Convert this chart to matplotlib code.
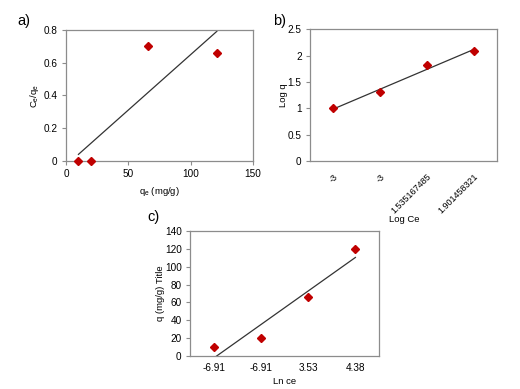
import numpy as np
import matplotlib
matplotlib.use("Agg")
import matplotlib.pyplot as plt

plt.rcParams["font.family"] = ["Liberation Sans", "DejaVu Sans"]
plt.rcParams["mathtext.fontset"] = "custom"
plt.rcParams["mathtext.rm"] = "Liberation Sans"
plt.rcParams["mathtext.it"] = "Liberation Sans"

# a) Langmuir
qe_a = [10, 20, 66, 121]
ce_qe_a = [0.0, 0.0, 0.70, 0.66]

# b) Freundlich (categorical x)
log_ce_labels = ["-3", "-3", "1.535167485", "1.901458321"]
log_q_b = [1.0, 1.3, 1.82, 2.08]

# c) Temkin (categorical x)
ln_ce_labels = ["-6.91", "-6.91", "3.53", "4.38"]
q_c = [10, 20, 66, 120]

RED = "#c00000"
SPINE = "#8c8c8c"
TICK_FS = 7.2
LAB_FS = 6.8


def style_axes(ax, cat=False):
    for s in ax.spines.values():
        s.set_color(SPINE)
        s.set_linewidth(0.9)
    ax.tick_params(axis="y", direction="out", length=3, width=0.8, color=SPINE,
                   labelsize=TICK_FS, pad=3)
    if cat:
        ax.tick_params(axis="x", length=0, labelsize=TICK_FS, pad=5)
    else:
        ax.tick_params(axis="x", direction="out", length=3, width=0.8, color=SPINE,
                       labelsize=TICK_FS, pad=3)


def trend(x, y):
    k, b = np.polyfit(x, y, 1)
    x = np.asarray(x, dtype=float)
    return x, k * x + b


fig = plt.figure(figsize=(5.2, 3.89), dpi=100)

# panel a
ax = fig.add_axes([0.1269, 0.5861, 0.3596, 0.3368])
tx, ty = trend(qe_a, ce_qe_a)
ax.plot(tx, ty, color="#333333", lw=0.9)
ax.plot(qe_a, ce_qe_a, "D", color=RED, ms=3.8, clip_on=False, zorder=5)
ax.set_xlim(0, 150)
ax.set_ylim(0, 0.8)
ax.set_xticks([0, 50, 100, 150])
ax.set_yticks([0, 0.2, 0.4, 0.6, 0.8])
ax.set_yticklabels(["0", "0.2", "0.4", "0.6", "0.8"])
ax.set_xlabel(r"q$_\mathregular{e}$ (mg/g)", fontsize=LAB_FS, labelpad=4)
ax.set_ylabel(r"C$_\mathregular{e}$/q$_\mathregular{e}$", fontsize=LAB_FS, labelpad=2)
style_axes(ax)
fig.text(0.033, 0.945, "a)", fontsize=10.5, va="center")

# panel b
ax = fig.add_axes([0.5962, 0.5861, 0.3596, 0.339])
pos = np.arange(1, len(log_q_b) + 1)
tx, ty = trend(pos, log_q_b)
ax.plot(tx, ty, color="#333333", lw=0.9)
ax.plot(pos, log_q_b, "D", color=RED, ms=3.8, zorder=5)
ax.set_xlim(0.5, 4.5)
ax.set_ylim(0, 2.5)
ax.set_yticks([0, 0.5, 1, 1.5, 2, 2.5])
ax.set_yticklabels(["0", "0.5", "1", "1.5", "2", "2.5"])
ax.set_xticks(pos)
ax.set_xticklabels(log_ce_labels, rotation=45, ha="right", va="top",
                   rotation_mode="anchor")
style_axes(ax, cat=True)
ax.tick_params(axis="x", labelsize=6.5, pad=8)
ax.set_ylabel("Log q", fontsize=LAB_FS, labelpad=0)
fig.text(0.777, 0.435, "Log Ce", fontsize=LAB_FS, ha="center", va="center")
fig.text(0.525, 0.945, "b)", fontsize=10.5, va="center")

# panel c
ax = fig.add_axes([0.3654, 0.0848, 0.3635, 0.3213])
pos = np.arange(1, len(q_c) + 1)
tx, ty = trend(pos, q_c)
ax.plot(tx, ty, color="#333333", lw=0.9)
ax.plot(pos, q_c, "D", color=RED, ms=3.8, zorder=5)
ax.set_xlim(0.5, 4.5)
ax.set_ylim(0, 140)
ax.set_yticks(range(0, 141, 20))
ax.set_xticks(pos)
ax.set_xticklabels(ln_ce_labels)
style_axes(ax, cat=True)
ax.set_xlabel("Ln ce", fontsize=LAB_FS, labelpad=3)
ax.set_ylabel("q (mg/g) Title", fontsize=LAB_FS, labelpad=0)
fig.text(0.284, 0.443, "c)", fontsize=10.5, va="center")

fig.savefig("out.png", dpi=100)
